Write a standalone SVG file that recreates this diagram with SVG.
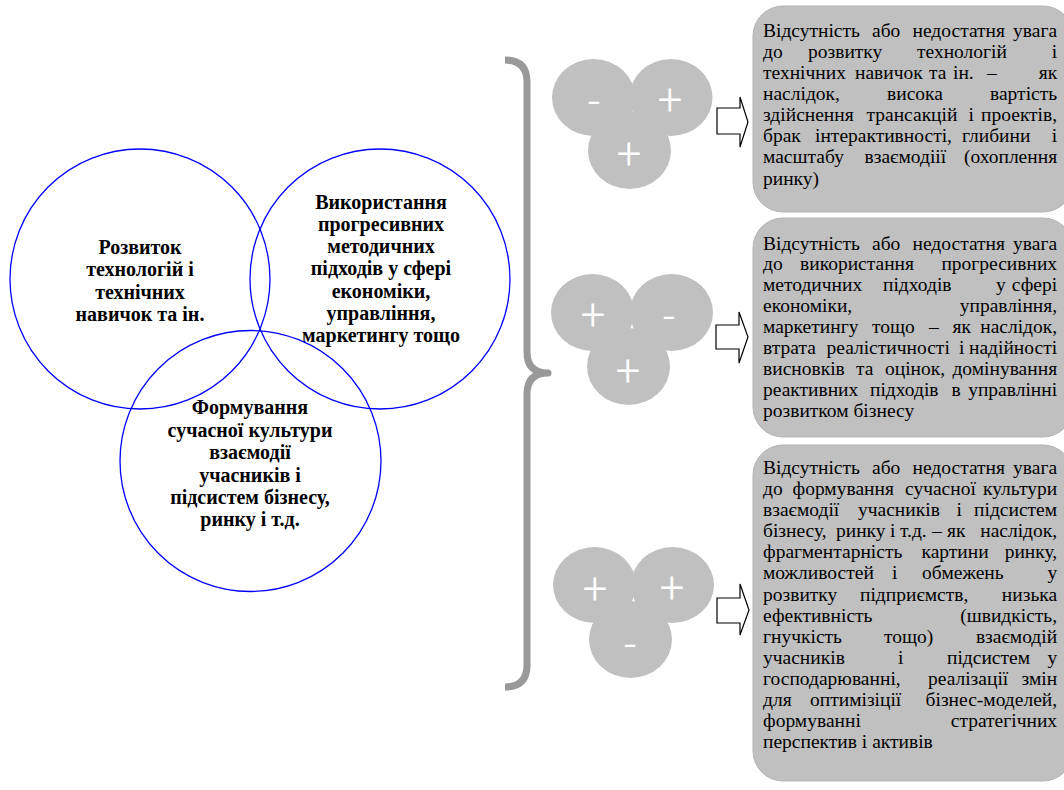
<svg xmlns="http://www.w3.org/2000/svg" width="1064" height="790" viewBox="0 0 1064 790">
<style>
.venn{fill:none;stroke:#0000ff;stroke-width:1.3}
.vt{font-family:"Liberation Serif","Times New Roman",serif;font-weight:bold;font-size:20px;fill:#000;text-anchor:middle}
.blob{fill:#c0c0c0}
.sign{font-family:Roboto,"Liberation Sans",Arial,sans-serif;font-weight:300;font-size:44px;fill:#fff;text-anchor:middle}
.box{fill:#c0c0c0;stroke:#b4b4b4;stroke-width:1}
.bt{font-family:"Liberation Serif","Times New Roman",serif;font-size:19.5px;fill:#000}
.e{text-anchor:end}
.arr{fill:#fff;stroke:#000;stroke-width:1.2;stroke-linejoin:miter}
.brace{fill:none;stroke:#999;stroke-width:7;stroke-linejoin:round}
</style>
<rect width="1064" height="790" fill="#fff"/>

<g id="venn-tech">
<circle class="venn" cx="140" cy="279" r="130"/>
<text class="vt"><tspan x="140" y="254">Розвиток</tspan><tspan x="140" y="276.3">технологій і</tspan><tspan x="140" y="298.5">технічних</tspan><tspan x="140" y="320.7">навичок та ін.</tspan></text>
</g>
<g id="venn-methods">
<circle class="venn" cx="380" cy="279" r="130"/>
<text class="vt"><tspan x="381" y="208.5">Використання</tspan><tspan x="381" y="230.8">прогресивних</tspan><tspan x="381" y="253.1">методичних</tspan><tspan x="381" y="275.4">підходів у сфері</tspan><tspan x="381" y="297.7">економіки,</tspan><tspan x="381" y="320">управління,</tspan><tspan x="381" y="342.3">маркетингу тощо</tspan></text>
</g>
<g id="venn-culture">
<circle class="venn" cx="250.5" cy="461" r="130.5"/>
<text class="vt"><tspan x="250" y="414.3">Формування</tspan><tspan x="250" y="436.7">сучасної культури</tspan><tspan x="250" y="459.1">взаємодії</tspan><tspan x="250" y="481.5">учасників і</tspan><tspan x="250" y="503.9">підсистем бізнесу,</tspan><tspan x="250" y="526.3">ринку і т.д.</tspan></text>
</g>

<g id="brace">
<path class="brace" d="M505,60 Q527,60 527,82 L527,352 Q527,373 548,373 Q527,373 527,394 L527,665 Q527,687 505,687"/>
</g>

<g id="cluster-1">
<ellipse class="blob" cx="593.5" cy="97.5" rx="41.5" ry="38.5"/>
<ellipse class="blob" cx="671" cy="97.5" rx="41.5" ry="38.5"/>
<ellipse class="blob" cx="629.5" cy="150.5" rx="41.5" ry="38.5"/>
<text class="sign" x="594" y="117">-</text>
<text class="sign" x="670" y="115">+</text>
<text class="sign" x="629" y="168.5">+</text>
</g>
<g id="cluster-2">
<ellipse class="blob" cx="592.5" cy="312.5" rx="41.5" ry="38.5"/>
<ellipse class="blob" cx="671.5" cy="312.5" rx="41.5" ry="38.5"/>
<ellipse class="blob" cx="628.5" cy="366.5" rx="41.5" ry="38.5"/>
<text class="sign" x="593" y="329.5">+</text>
<text class="sign" x="669" y="332">-</text>
<text class="sign" x="628" y="385.5">+</text>
</g>
<g id="cluster-3">
<ellipse class="blob" cx="594.5" cy="585" rx="41.5" ry="38"/>
<ellipse class="blob" cx="672.5" cy="585" rx="41.5" ry="38"/>
<ellipse class="blob" cx="630.5" cy="639.5" rx="41.5" ry="38.5"/>
<text class="sign" x="595" y="603.5">+</text>
<text class="sign" x="672" y="602.5">+</text>
<text class="sign" x="630" y="660">-</text>
</g>

<g id="connectors">
<polygon class="arr" points="717,108 740,108 740,97 748,122 740,147 740,134 717,134"/>
<polygon class="arr" points="716,325 739,325 739,312 748,337 739,363 739,349 716,349"/>
<polygon class="arr" points="717,598 740,598 740,584 749,610 740,635 740,623 717,623"/>
</g>

<g id="box-1">
<rect class="box" x="753" y="6" width="320" height="206" rx="30" ry="30"/>
<text class="bt">
<tspan y="36.5" x="763">Відсутність</tspan><tspan x="872">або</tspan><tspan x="912.5">недостатня</tspan><tspan x="1062" class="e">увага</tspan>
<tspan y="57.6" x="763">до</tspan><tspan x="808">розвитку</tspan><tspan x="917">технологій</tspan><tspan x="1062" class="e">і</tspan>
<tspan y="78.8" x="763">технічних</tspan><tspan x="855">навичок</tspan><tspan x="929">та</tspan><tspan x="953">ін.</tspan><tspan x="987">–</tspan><tspan x="1062" class="e">як</tspan>
<tspan y="99.9" x="763">наслідок,</tspan><tspan x="887">висока</tspan><tspan x="1062" class="e">вартість</tspan>
<tspan y="121.1" x="763">здійснення</tspan><tspan x="866.5">трансакцій</tspan><tspan x="968.5">і</tspan><tspan x="1062" class="e">проектів,</tspan>
<tspan y="142.2" x="763">брак</tspan><tspan x="815">інтерактивності,</tspan><tspan x="962">глибини</tspan><tspan x="1062" class="e">і</tspan>
<tspan y="163.4" x="763">масштабу</tspan><tspan x="864.5">взаємодіії</tspan><tspan x="1062" class="e">(охоплення</tspan>
<tspan y="184.5" x="763">ринку)</tspan>
</text>
</g>

<g id="box-2">
<rect class="box" x="753" y="218" width="320" height="219" rx="30" ry="30"/>
<text class="bt">
<tspan y="249.5" x="763">Відсутність</tspan><tspan x="872">або</tspan><tspan x="912.5">недостатня</tspan><tspan x="1062" class="e">увага</tspan>
<tspan y="270.4" x="763">до</tspan><tspan x="800">використання</tspan><tspan x="1062" class="e">прогресивних</tspan>
<tspan y="291.3" x="763">методичних</tspan><tspan x="883">підходів</tspan><tspan x="996">у</tspan><tspan x="1062" class="e">сфері</tspan>
<tspan y="312.2" x="763">економіки,</tspan><tspan x="1062" class="e">управління,</tspan>
<tspan y="333.1" x="763">маркетингу</tspan><tspan x="872">тощо</tspan><tspan x="929">–</tspan><tspan x="952.5">як</tspan><tspan x="1062" class="e">наслідок,</tspan>
<tspan y="354" x="763">втрата</tspan><tspan x="826.5">реалістичності</tspan><tspan x="959">і</tspan><tspan x="1062" class="e">надійності</tspan>
<tspan y="374.9" x="763">висновків</tspan><tspan x="856">та</tspan><tspan x="885">оцінок,</tspan><tspan x="1062" class="e">домінування</tspan>
<tspan y="395.8" x="763">реактивних</tspan><tspan x="870">підходів</tspan><tspan x="951.5">в</tspan><tspan x="1062" class="e">управлінні</tspan>
<tspan y="416.7" x="763">розвитком бізнесу</tspan>
</text>
</g>

<g id="box-3">
<rect class="box" x="753" y="445" width="320" height="336" rx="30" ry="30"/>
<text class="bt">
<tspan y="474" x="763">Відсутність</tspan><tspan x="872">або</tspan><tspan x="912.5">недостатня</tspan><tspan x="1062" class="e">увага</tspan>
<tspan y="495.1" x="763">до</tspan><tspan x="792.5">формування</tspan><tspan x="905">сучасної</tspan><tspan x="1062" class="e">культури</tspan>
<tspan y="516.2" x="763">взаємодії</tspan><tspan x="858">учасників</tspan><tspan x="956.5">і</tspan><tspan x="1062" class="e">підсистем</tspan>
<tspan y="537.2" x="763">бізнесу,</tspan><tspan x="836">ринку</tspan><tspan x="890">і</tspan><tspan x="900">т.д.</tspan><tspan x="932">–</tspan><tspan x="947">як</tspan><tspan x="1062" class="e">наслідок,</tspan>
<tspan y="558.3" x="763">фрагментарність</tspan><tspan x="921.5">картини</tspan><tspan x="1062" class="e">ринку,</tspan>
<tspan y="579.4" x="763">можливостей</tspan><tspan x="892">і</tspan><tspan x="922">обмежень</tspan><tspan x="1062" class="e">у</tspan>
<tspan y="600.5" x="763">розвитку</tspan><tspan x="860">підприємств,</tspan><tspan x="1062" class="e">низька</tspan>
<tspan y="621.6" x="763">ефективність</tspan><tspan x="1062" class="e">(швидкість,</tspan>
<tspan y="642.6" x="763">гнучкість</tspan><tspan x="884">тощо)</tspan><tspan x="1062" class="e">взаємодій</tspan>
<tspan y="663.7" x="763">учасників</tspan><tspan x="898">і</tspan><tspan x="947">підсистем</tspan><tspan x="1062" class="e">у</tspan>
<tspan y="684.8" x="763">господарюванні,</tspan><tspan x="928">реалізації</tspan><tspan x="1062" class="e">змін</tspan>
<tspan y="705.9" x="763">для</tspan><tspan x="810">оптимізіції</tspan><tspan x="1062" class="e">бізнес-моделей,</tspan>
<tspan y="726.9" x="763">формуванні</tspan><tspan x="1062" class="e">стратегічних</tspan>
<tspan y="748" x="763">перспектив і активів</tspan>
</text>
</g>
</svg>
